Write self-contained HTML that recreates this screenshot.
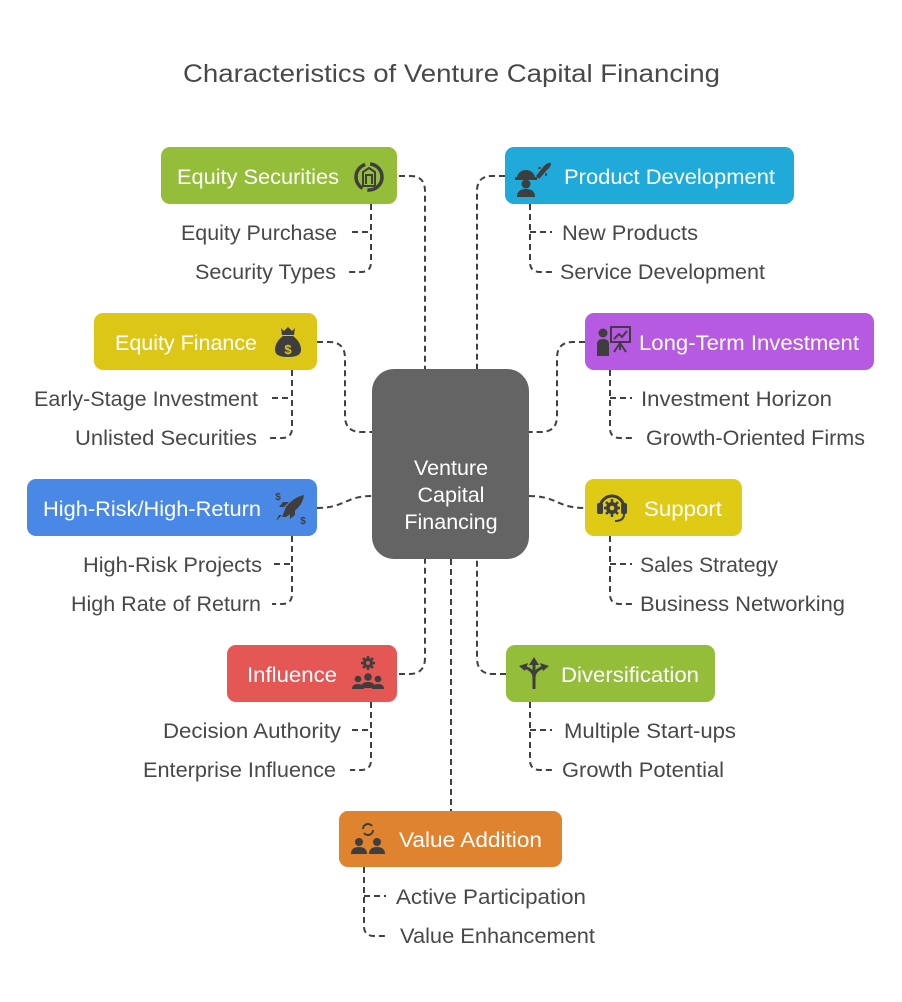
<!DOCTYPE html>
<html><head><meta charset="utf-8"><style>
html,body{margin:0;padding:0;background:#fff;}
svg{display:block;}
text{font-family:"Liberation Sans",Arial,sans-serif;}
.sub{font-size:21px;fill:#484848;}
.lbl{font-size:21.5px;fill:#fff;}
.c{fill:none;stroke:#404040;stroke-width:2;stroke-dasharray:6 4;}
.ic{fill:#3e3e3e;}
.ics{fill:none;stroke:#3e3e3e;}
</style></head><body>
<svg width="902" height="1002" viewBox="0 0 902 1002" xmlns="http://www.w3.org/2000/svg">
<rect width="902" height="1002" fill="#fff"/>
<text x="183" y="82" font-size="25" fill="#484848" textLength="537" lengthAdjust="spacingAndGlyphs">Characteristics of Venture Capital Financing</text>

<!-- main connectors -->
<path class="c" d="M399,176 H410 Q425,176 425,191 V369"/>
<path class="c" d="M505,176 H492 Q477,176 477,191 V369"/>
<path class="c" d="M317,342 H329 Q345,342 345,358 V416 Q345,432 361,432 H372"/>
<path class="c" d="M585,342 H573 Q557,342 557,358 V416 Q557,432 541,432 H529"/>
<path class="c" d="M317,508 C345,508 345,496 372,496"/>
<path class="c" d="M529,496 C557,496 557,508 585,508"/>
<path class="c" d="M399,674 H409 Q425,674 425,658 V559"/>
<path class="c" d="M506,674 H493 Q477,674 477,658 V559"/>
<path class="c" d="M451,559 V811"/>

<!-- sub connectors left -->
<path class="c" d="M371,204 V262 Q371,272 361,272 H348"/><path class="c" d="M352,232 H371"/>
<path class="c" d="M292,370 V428 Q292,438 282,438 H270"/><path class="c" d="M272,398 H292"/>
<path class="c" d="M292,536 V594 Q292,604 282,604 H272"/><path class="c" d="M274,564 H292"/>
<path class="c" d="M371,702 V760 Q371,770 361,770 H350"/><path class="c" d="M352,730 H371"/>
<!-- sub connectors right -->
<path class="c" d="M530,204 V262 Q530,272 540,272 H554"/><path class="c" d="M530,232 H552"/>
<path class="c" d="M610,370 V428 Q610,438 620,438 H634"/><path class="c" d="M610,398 H632"/>
<path class="c" d="M610,536 V594 Q610,604 620,604 H632"/><path class="c" d="M610,564 H632"/>
<path class="c" d="M530,702 V760 Q530,770 540,770 H554"/><path class="c" d="M530,730 H552"/>
<path class="c" d="M364,867 V926 Q364,936 374,936 H388"/><path class="c" d="M364,896 H386"/>

<!-- center -->
<rect x="372" y="369" width="157" height="190" rx="22" fill="#646464"/>
<text x="451" y="475" class="lbl" text-anchor="middle">Venture</text>
<text x="451" y="502" class="lbl" text-anchor="middle">Capital</text>
<text x="451" y="529" class="lbl" text-anchor="middle">Financing</text>

<!-- boxes -->
<rect x="161" y="147" width="236" height="57" rx="9" fill="#94be3a"/>
<text x="177" y="184" class="lbl" textLength="162" lengthAdjust="spacingAndGlyphs">Equity Securities</text>
<rect x="505" y="147" width="289" height="57" rx="9" fill="#1faad9"/>
<text x="564" y="184" class="lbl" textLength="211" lengthAdjust="spacingAndGlyphs">Product Development</text>
<rect x="94" y="313" width="223" height="57" rx="9" fill="#dcc717"/>
<text x="115" y="350" class="lbl" textLength="142" lengthAdjust="spacingAndGlyphs">Equity Finance</text>
<rect x="585" y="313" width="289" height="57" rx="9" fill="#b65ae1"/>
<text x="639" y="350" class="lbl" textLength="220" lengthAdjust="spacingAndGlyphs">Long-Term Investment</text>
<rect x="27" y="479" width="290" height="57" rx="9" fill="#4a88e6"/>
<text x="43" y="516" class="lbl" textLength="218" lengthAdjust="spacingAndGlyphs">High-Risk/High-Return</text>
<rect x="585" y="479" width="157" height="57" rx="9" fill="#dfca16"/>
<text x="644" y="516" class="lbl" textLength="78" lengthAdjust="spacingAndGlyphs">Support</text>
<rect x="227" y="645" width="170" height="57" rx="9" fill="#e45755"/>
<text x="247" y="682" class="lbl" textLength="90" lengthAdjust="spacingAndGlyphs">Influence</text>
<rect x="506" y="645" width="209" height="57" rx="9" fill="#94be3a"/>
<text x="561" y="682" class="lbl" textLength="138" lengthAdjust="spacingAndGlyphs">Diversification</text>
<rect x="339" y="811" width="223" height="56" rx="9" fill="#e0832f"/>
<text x="399" y="847" class="lbl" textLength="143" lengthAdjust="spacingAndGlyphs">Value Addition</text>

<!-- sub texts -->
<text class="sub" x="337" y="240" text-anchor="end" textLength="156" lengthAdjust="spacingAndGlyphs">Equity Purchase</text>
<text class="sub" x="336" y="279" text-anchor="end" textLength="141" lengthAdjust="spacingAndGlyphs">Security Types</text>
<text class="sub" x="562" y="240" textLength="136" lengthAdjust="spacingAndGlyphs">New Products</text>
<text class="sub" x="560" y="279" textLength="205" lengthAdjust="spacingAndGlyphs">Service Development</text>
<text class="sub" x="258" y="406" text-anchor="end" textLength="224" lengthAdjust="spacingAndGlyphs">Early-Stage Investment</text>
<text class="sub" x="257" y="445" text-anchor="end" textLength="182" lengthAdjust="spacingAndGlyphs">Unlisted Securities</text>
<text class="sub" x="641" y="406" textLength="191" lengthAdjust="spacingAndGlyphs">Investment Horizon</text>
<text class="sub" x="646" y="445" textLength="219" lengthAdjust="spacingAndGlyphs">Growth-Oriented Firms</text>
<text class="sub" x="262" y="572" text-anchor="end" textLength="179" lengthAdjust="spacingAndGlyphs">High-Risk Projects</text>
<text class="sub" x="261" y="611" text-anchor="end" textLength="190" lengthAdjust="spacingAndGlyphs">High Rate of Return</text>
<text class="sub" x="640" y="572" textLength="138" lengthAdjust="spacingAndGlyphs">Sales Strategy</text>
<text class="sub" x="640" y="611" textLength="205" lengthAdjust="spacingAndGlyphs">Business Networking</text>
<text class="sub" x="341" y="738" text-anchor="end" textLength="178" lengthAdjust="spacingAndGlyphs">Decision Authority</text>
<text class="sub" x="336" y="777" text-anchor="end" textLength="193" lengthAdjust="spacingAndGlyphs">Enterprise Influence</text>
<text class="sub" x="564" y="738" textLength="172" lengthAdjust="spacingAndGlyphs">Multiple Start-ups</text>
<text class="sub" x="562" y="777" textLength="162" lengthAdjust="spacingAndGlyphs">Growth Potential</text>
<text class="sub" x="396" y="904" textLength="190" lengthAdjust="spacingAndGlyphs">Active Participation</text>
<text class="sub" x="400" y="943" textLength="195" lengthAdjust="spacingAndGlyphs">Value Enhancement</text>

<!-- icons -->
<!-- equity securities -->
<g>
<circle cx="369" cy="177" r="13" class="ics" stroke-width="3.5" stroke-dasharray="22 5 30 5 20 5"/>
<path class="ics" stroke-width="2" d="M363,186 V172 L369,168 L375,172 V186 M365,175 H373 M366,175 V184 M372,175 V184 M363,186 H375"/>
</g>
<!-- product development -->
<g>
<path class="ic" d="M517,178 A9,8 0 0 1 535,178 Z"/>
<rect x="515" y="177" width="22" height="3" class="ic"/>
<circle cx="526" cy="184" r="4.5" class="ic"/>
<path class="ic" d="M517,197 Q517,189 526,189 Q535,189 535,197 Z"/>
<path class="ic" d="M536,176 L544,166 Q548,162 551,163 Q551,167 547,170 L539,179 Z"/>
<path class="ics" stroke-width="1.5" d="M538,168 L541,168 M546,173 L546,176"/>
</g>
<!-- money bag -->
<g>
<path class="ic" d="M281,328 L284,331 L288,327 L292,331 L295,328 L294,335 H282 Z"/>
<path class="ic" d="M283,336 H293 Q301,342 301,350 Q301,357 288,357 Q275,357 275,350 Q275,342 283,336 Z"/>
<text x="288" y="354" font-size="13" font-weight="bold" fill="#dcc717" text-anchor="middle">$</text>
</g>
<!-- long-term -->
<g>
<circle cx="603" cy="333" r="4.5" class="ic"/>
<path class="ic" d="M597,356 V344 Q597,339 603,339 Q609,339 609,344 V356 Z"/>
<rect x="611" y="327" width="19" height="15" class="ics" stroke-width="2"/>
<path class="ics" stroke-width="2" d="M614,339 L619,334 L622,337 L627,331 M620,342 V350 M620,343 L614,352 M620,343 L626,352"/>
</g>
<!-- rocket -->
<g>
<path class="ic" d="M282,517 L286,507 Q294,497 304,495 Q303,505 293,512 L286,517 Z"/>
<path class="ic" d="M284,507 L279,507 L283,502 L289,502 Z M290,514 L290,519 L295,515 L295,509 Z"/>
<path class="ic" d="M282,515 L276,521 L279,515 Z"/>
<text x="278" y="500" font-size="10" font-weight="bold" fill="#3e3e3e" text-anchor="middle">$</text>
<text x="303" y="524" font-size="10" font-weight="bold" fill="#3e3e3e" text-anchor="middle">$</text>
</g>
<!-- support -->
<g>
<path class="ics" stroke-width="3" d="M600,508 A12,12 0 0 1 624,508"/>
<rect x="597" y="503" width="6" height="11" rx="2" class="ic"/>
<rect x="621" y="503" width="6" height="11" rx="2" class="ic"/>
<path class="ics" stroke-width="2" d="M624,514 Q624,521 615,521"/>
<circle cx="612" cy="508" r="6" class="ic"/>
<circle cx="612" cy="508" r="2.3" fill="#dfca16"/>
<path class="ics" stroke-width="2.5" d="M612,499 V517 M604,508 H620 M606,502 L618,514 M618,502 L606,514"/>
<circle cx="612" cy="508" r="2.3" fill="#dfca16"/>
</g>
<!-- influence -->
<g>
<circle cx="368" cy="663" r="5" class="ic"/>
<path class="ics" stroke-width="2.5" d="M368,656 V670 M361,663 H375 M363,658 L373,668 M373,658 L363,668"/>
<circle cx="368" cy="663" r="2" fill="#e45755"/>
<circle cx="358" cy="679" r="3.3" class="ic"/>
<circle cx="368" cy="677" r="3.8" class="ic"/>
<circle cx="378" cy="679" r="3.3" class="ic"/>
<path class="ic" d="M352,689 Q352,684 358,684 Q364,684 364,689 Z M361,688 Q361,682 368,682 Q375,682 375,688 Z M372,689 Q372,684 378,684 Q384,684 384,689 Z"/>
</g>
<!-- diversification -->
<g>
<path class="ics" stroke-width="3" d="M534,689 V664 M534,678 Q534,670 524,667 M534,678 Q534,670 544,667"/>
<path class="ic" d="M534,657 L539,665 H529 Z M519,666 L528,663 L525,671 Z M549,666 L540,663 L543,671 Z"/>
</g>
<!-- value addition -->
<g>
<path class="ics" stroke-width="2" d="M363,829 A5,5 0 0 1 372,826 M373,830 A5,5 0 0 1 364,833"/>
<circle cx="359" cy="842" r="4" class="ic"/>
<circle cx="377" cy="842" r="4" class="ic"/>
<path class="ic" d="M351,854 Q351,847 359,847 Q367,847 367,854 Z M369,854 Q369,847 377,847 Q385,847 385,854 Z"/>
</g>
</svg>
</body></html>
